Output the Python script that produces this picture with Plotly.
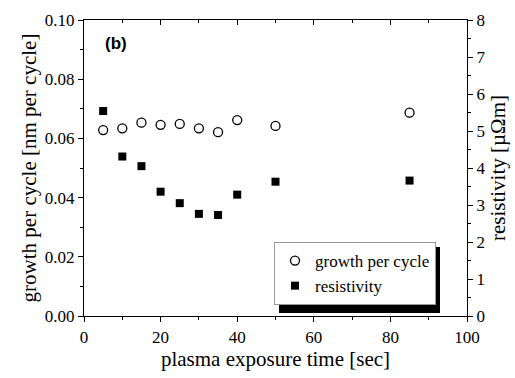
import plotly.graph_objects as go

time_sec = [5, 10, 15, 20, 25, 30, 35, 40, 50, 85]
growth_per_cycle = [0.0628, 0.0634, 0.0653, 0.0646, 0.0649, 0.0634, 0.0621, 0.0662, 0.0642, 0.0687]
resistivity = [5.54, 4.31, 4.05, 3.36, 3.05, 2.76, 2.73, 3.28, 3.63, 3.66]

FONT = "Liberation Serif"
TICKFONT = dict(family=FONT, size=17, color="black")

fig = go.Figure()
fig.add_trace(go.Scatter(
    x=time_sec, y=growth_per_cycle, mode="markers", name="growth per cycle",
    marker=dict(symbol="circle-open", size=9, color="black", line=dict(width=1.3, color="black")),
    yaxis="y", xaxis="x"))
fig.add_trace(go.Scatter(
    x=time_sec, y=resistivity, mode="markers", name="resistivity",
    marker=dict(symbol="square", size=8, color="black"),
    yaxis="y2", xaxis="x"))
fig.add_trace(go.Scatter(x=[None], y=[None], xaxis="x2", yaxis="y", showlegend=False))

PW, PH = 383, 296
LEG_L, LEG_T = 274, 242          # legend box, pixels
LEG_W, LEG_H = 161, 66           # approximate rendered legend size
SH = 5                           # shadow offset
L_X0 = (LEG_L - 84) / PW
L_Y1 = (316 - LEG_T) / PH

fig.update_layout(
    width=515, height=378,
    margin=dict(l=84, r=48, t=20, b=62),
    paper_bgcolor="white", plot_bgcolor="white",
    font=dict(family=FONT, color="black", size=17),
    showlegend=True,
    xaxis=dict(range=[0, 100], dtick=20, tick0=0, ticks="outside", ticklen=5,
               minor=dict(dtick=10, ticks="outside", ticklen=3, tickcolor="black"),
               title=dict(text="plasma exposure time [sec]", font=dict(family=FONT, size=21), standoff=4)),
    xaxis2=dict(range=[0, 100], dtick=20, overlaying="x", side="top", showticklabels=False,
                ticks="inside", ticklen=5,
                minor=dict(dtick=10, ticks="inside", ticklen=3, tickcolor="black")),
    yaxis=dict(range=[0, 0.1], dtick=0.02, tick0=0, tickformat=".2f", ticks="outside", ticklen=5,
               minor=dict(dtick=0.01, ticks="outside", ticklen=3, tickcolor="black"),
               title=dict(text="growth per cycle [nm per cycle]", font=dict(family=FONT, size=21), standoff=2)),
    yaxis2=dict(range=[0, 8], dtick=1, tick0=0, overlaying="y", side="right", ticks="outside", ticklen=5,
                minor=dict(dtick=0.5, ticks="outside", ticklen=3, tickcolor="black"),
                title=dict(text="resistivity [\u00b5\u03a9m]", font=dict(family=FONT, size=21), standoff=2)),
    legend=dict(x=L_X0, y=L_Y1, xanchor="left", yanchor="top",
                bgcolor="white", bordercolor="#999", borderwidth=1,
                font=dict(family=FONT, size=17, color="black"),
                tracegroupgap=0, itemwidth=30),
    annotations=[dict(x=8.3, y=0.0922, xref="x", yref="y", text="<b>(b)</b>", showarrow=False,
                      font=dict(family="Liberation Sans", size=17, color="black"))],
    shapes=[dict(type="rect", xref="paper", yref="paper",
                 x0=(LEG_L + SH - 84) / PW, x1=(LEG_L + LEG_W + SH - 84) / PW,
                 y0=(316 - (LEG_T + LEG_H + SH)) / PH, y1=(316 - (LEG_T + SH)) / PH,
                 fillcolor="black", line=dict(width=0), layer="above")],
)
for upd in (fig.update_xaxes, fig.update_yaxes):
    upd(showgrid=False, zeroline=False, showline=True, linecolor="black", linewidth=1.3,
        tickcolor="black", tickwidth=1, tickfont=TICKFONT)

fig.write_html("out.html")
